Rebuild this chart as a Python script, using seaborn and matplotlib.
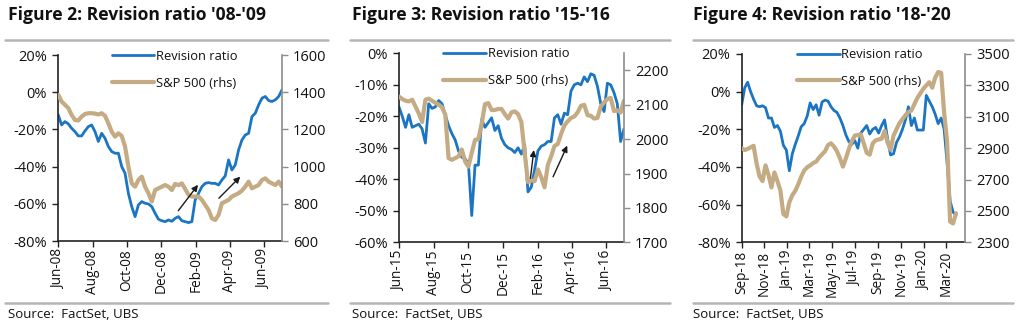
import matplotlib
matplotlib.use("Agg")
import matplotlib.pyplot as plt
import matplotlib.dates as mdates
import matplotlib.ticker as mticker
from matplotlib.lines import Line2D
import seaborn as sns
import pandas as pd

# ---------------- data ----------------
titles = ["Figure 2: Revision ratio '08-'09",
          "Figure 3: Revision ratio '15-'16",
          "Figure 4: Revision ratio '18-'20"]
source_text = "Source:  FactSet, UBS"
legend_labels = ["Revision ratio", "S&P 500 (rhs)"]

p1_start, p1_end = "2008-06-01", "2009-07-03"
p1_rev = [-12.2, -17.6, -15.8, -17.0, -19.4, -21.2, -23.5, -23.5, -20.8, -18.5,
          -17.6, -21.2, -26.5, -22.1, -24.8, -29.2, -31.9, -32.8, -32.8, -40.0,
          -43.6, -54.4, -61.5, -66.9, -60.6, -58.8, -59.7, -60.1, -61.5, -65.1,
          -68.3, -69.1, -69.6, -68.7, -69.4, -67.8, -66.9, -69.1, -69.6, -70.1,
          -69.6, -57.9, -54.4, -50.8, -49.0, -48.6, -49.0, -49.0, -49.9, -47.2,
          -45.0, -36.4, -41.8, -39.1, -31.0, -25.7, -23.0, -22.1, -13.1, -11.3,
          -6.8, -3.2, -2.3, -4.5, -5.0, -4.1, -2.3, 1.3]
p1_spx = [1386, 1350, 1332, 1315, 1278, 1251, 1248, 1269, 1283, 1287,
          1287, 1285, 1280, 1287, 1273, 1233, 1188, 1161, 1179, 1165,
          1108, 1000, 910, 892, 928, 946, 892, 857, 812, 874,
          883, 892, 901, 892, 874, 907, 900, 910, 880, 848,
          839, 839, 839, 821, 794, 767, 722, 713, 740, 803,
          812, 821, 839, 848, 857, 871, 892, 919, 883, 892,
          901, 928, 937, 919, 910, 901, 919, 892]

p2_start, p2_end = "2015-06-01", "2016-07-02"
p2_rev = [-17, -20, -23.5, -19.5, -23.5, -23, -22.5, -24, -28.5, -16,
          -17.5, -17, -15, -16, -19.5, -23, -25.5, -27.5, -31, -33,
          -33.5, -35, -51.5, -35.5, -35.5, -21, -23.5, -22, -20.5, -24.5,
          -23, -27, -29, -30, -30.5, -31.5, -30, -32, -29, -44,
          -42.5, -37, -31, -29.5, -29, -28, -28, -20.5, -19.5, -22.5,
          -19, -19.5, -12, -10, -9.5, -10, -7.5, -9, -6.5, -7,
          -10.5, -16, -18.5, -9.5, -10, -12.5, -16, -28, -24]
p2_spx = [2124, 2117, 2112, 2110, 2115, 2095, 2075, 2050, 2115, 2118,
          2112, 2106, 2101, 2093, 2072, 1945, 1940, 1945, 1950, 1970,
          1935, 1920, 1960, 1998, 2000, 2045, 2102, 2105, 2085, 2085,
          2088, 2088, 2073, 2060, 2078, 2081, 2073, 2050, 1960, 1875,
          1880, 1878, 1912, 1890, 1860, 1925, 1950, 1980, 1986, 2015,
          2040, 2052, 2062, 2066, 2078, 2097, 2100, 2070, 2068, 2060,
          2062, 2095, 2107, 2117, 2120, 2082, 2084, 2078, 2112]

p3_start, p3_end = "2018-09-01", "2020-03-28"
p3_rev = [-7, 2, 5, 0, -4, -7.5, -8, -7.5, -8.5, -14,
          -14, -19, -18, -21, -28.5, -31, -42, -33, -28, -23.5,
          -18.6, -17, -13, -6, -9.5, -7, -12.5, -5.5, -4.5, -5,
          -8, -10, -11, -14, -18, -23, -26.5, -28, -26, -30,
          -22, -20, -18, -22.5, -20, -19, -22, -18, -15, -25,
          -33.6, -33, -27, -24, -20, -15, -8, -18, -14, -20.4,
          -20.4, -20.4, -2, -5, -8, -12, -17, -14, -20, -38,
          -58, -64, -65.5]
p3_spx = [2899, 2888, 2895, 2905, 2915, 2803, 2720, 2690, 2790, 2730,
          2650, 2745, 2690, 2630, 2480, 2465, 2555, 2600, 2628, 2670,
          2718, 2758, 2778, 2790, 2805, 2814, 2840, 2860, 2880, 2920,
          2931, 2910, 2880, 2835, 2782, 2835, 2895, 2945, 2980, 2984,
          2988, 2930, 2870, 2858, 2930, 2950, 2955, 2960, 3010, 2935,
          2890, 2980, 3020, 3060, 3085, 3110, 3130, 3140, 3180, 3220,
          3249, 3278, 3300, 3320, 3285, 3350, 3385, 3380, 3125, 2940,
          2432, 2420, 2485]

# axis settings per panel
xlims = [("2008-06-01", "2009-07-03"), ("2015-06-01", "2016-07-02"), ("2018-09-01", "2020-04-21")]
tick_months = [[2, 4, 6, 8, 10, 12], [2, 4, 6, 8, 10, 12], [1, 3, 5, 7, 9, 11]]
left_lims = [(-80, 20), (-60, 0), (-80, 20)]
left_step = [20, 10, 20]
right_lims = [(600, 1600), (1700, 2250), (2300, 3500)]
right_ticks = [list(range(600, 1601, 200)), list(range(1700, 2201, 100)), list(range(2300, 3501, 200))]

# arrows (annotation) : (tail date, tail %, head date, head %)
arrows = [
    [("2008-12-31", -63.7, "2009-02-04", -49.8), ("2009-03-13", -57.0, "2009-04-20", -45.4)],
    [("2016-01-19", -39.7, "2016-01-25", -30.7), ("2016-02-28", -39.2, "2016-03-24", -29.3)],
    [],
]

# ---------------- style ----------------
sns.set_style("white")
plt.rcParams['font.family'] = ['Open Sans', 'DejaVu Sans']
plt.rcParams['text.color'] = '#111111'
BLUE = "#1b75c2"
TAN = "#c4ab84"
TXT = "#111111"

fig = plt.figure(figsize=(10.24, 3.31), dpi=100)

rects = [[0.0569, 0.2719, 0.2185, 0.5619],
         [0.3896, 0.2680, 0.2197, 0.5710],
         [0.7243, 0.2680, 0.2181, 0.5689]]
title_x = [8, 352, 693]
rule_x = [(5, 328), (350, 670), (693, 1013)]
legend_anchor = [(0.215, 1.055), (0.173, 1.058), (0.224, 1.058)]

panels = [(p1_start, p1_end, p1_rev, p1_spx),
          (p2_start, p2_end, p2_rev, p2_spx),
          (p3_start, p3_end, p3_rev, p3_spx)]

W, H = 1024.0, 331.0
for i, (start, end, rev, spx) in enumerate(panels):
    dates = pd.date_range(start, end, periods=len(rev))
    df = pd.DataFrame({"date": dates, "rev": rev, "spx": spx})
    ax = fig.add_axes(rects[i])
    ax2 = ax.twinx()
    sns.lineplot(data=df, x="date", y="rev", ax=ax, color=BLUE, lw=2.0, label=legend_labels[0], legend=False)
    sns.lineplot(data=df, x="date", y="spx", ax=ax2, color=TAN, lw=3.0, label=legend_labels[1], legend=False)

    ax.set_xlim(pd.Timestamp(xlims[i][0]), pd.Timestamp(xlims[i][1]))
    ax.set_ylim(*left_lims[i])
    ax2.set_ylim(*right_lims[i])
    ax.yaxis.set_major_locator(mticker.MultipleLocator(left_step[i]))
    ax.yaxis.set_major_formatter(mticker.FuncFormatter(lambda v, p: f"{int(round(v))}%"))
    ax2.set_yticks(right_ticks[i])
    ax.xaxis.set_major_locator(mdates.MonthLocator(bymonth=tick_months[i]))
    ax.xaxis.set_major_formatter(mdates.DateFormatter("%b-%y"))
    ax.set_xlabel("")
    ax.set_ylabel("")
    ax2.set_ylabel("")

    for a in (ax, ax2):
        a.spines['top'].set_visible(False)
        a.set_facecolor('none')
    ax.spines['right'].set_visible(False)
    ax2.spines['left'].set_visible(False)
    ax2.spines['bottom'].set_visible(False)
    ax.spines['left'].set_color('#222222')
    ax.spines['bottom'].set_color('#222222')
    ax2.spines['right'].set_color('#8c8c8c')
    for s in ('left', 'bottom'):
        ax.spines[s].set_linewidth(1.2)
    ax2.spines['right'].set_linewidth(1.2)

    ax.tick_params(axis='y', which='major', left=True, length=4, width=1.0, color='#222222',
                   labelsize=10.5, labelcolor=TXT, pad=4)
    ax.tick_params(axis='x', which='major', bottom=True, length=4, width=1.0, color='#222222',
                   labelsize=9.8, labelcolor=TXT, rotation=90, pad=2)
    ax2.tick_params(axis='y', which='major', right=True, length=4, width=1.0, color='#8c8c8c',
                    labelsize=10.5, labelcolor=TXT, pad=4)
    ax.grid(False)
    ax2.grid(False)

    handles = [Line2D([], [], color=BLUE, lw=2.0), Line2D([], [], color=TAN, lw=3.0)]
    leg = ax2.legend(handles, legend_labels, loc='upper left', bbox_to_anchor=legend_anchor[i],
                     frameon=False, fontsize=9.3, handlelength=3.3, handletextpad=0.15,
                     labelspacing=1.05, borderaxespad=0)
    for t in leg.get_texts():
        t.set_color(TXT)

    for (t0, v0, t1, v1) in arrows[i]:
        ax2.annotate("", xy=(mdates.date2num(pd.Timestamp(t1)), v1),
                     xytext=(mdates.date2num(pd.Timestamp(t0)), v0),
                     xycoords=ax.transData, textcoords=ax.transData,
                     arrowprops=dict(arrowstyle='-|>', color='#1a1a1a', lw=1.0,
                                     mutation_scale=9, shrinkA=0, shrinkB=0))

    fig.text(title_x[i] / W, 1 - 15 / H, titles[i], fontsize=12.6, fontweight='bold',
             family=['Liberation Sans Narrow', 'Open Sans', 'DejaVu Sans'], ha='left', va='center', color=TXT)
    x0, x1 = rule_x[i]
    fig.add_artist(Line2D([x0 / W, x1 / W], [1 - 40 / H, 1 - 40 / H], color='#b5b5b5', lw=1.8))
    fig.add_artist(Line2D([x0 / W, x1 / W], [1 - 302.7 / H, 1 - 302.7 / H], color='#b5b5b5', lw=1.8))
    fig.text(title_x[i] / W, 1 - 314 / H, source_text, fontsize=9.5, ha='left', va='center', color=TXT)

fig.savefig("out.png", dpi=100)
